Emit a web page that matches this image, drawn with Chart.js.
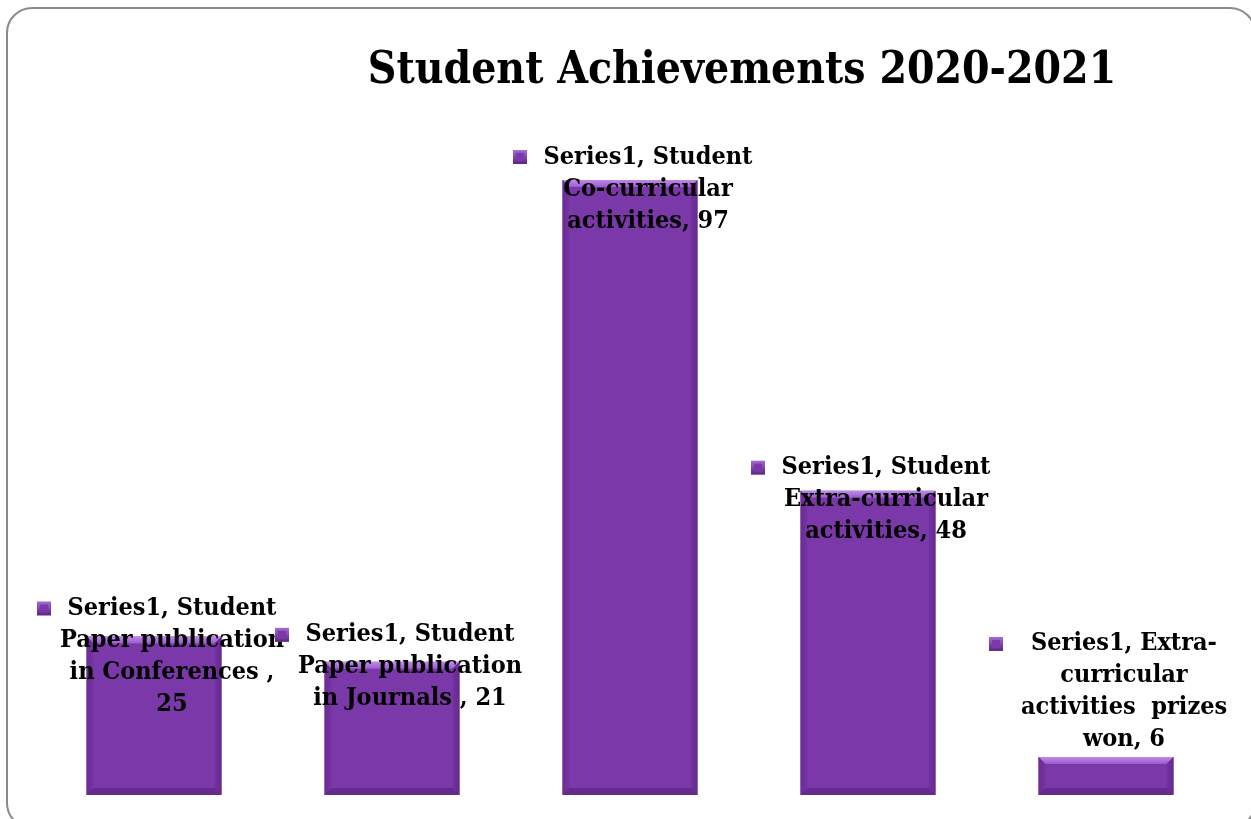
<!DOCTYPE html>
<html>
<head>
<meta charset="utf-8">
<script src="https://cdn.jsdelivr.net/npm/chart.js@4"></script>
<style>
  html, body { margin: 0; padding: 0; background: #fff; }
  #wrap { position: relative; width: 1251px; height: 819px; overflow: hidden; }
  #frame {
    position: absolute; left: 6px; top: 7px; width: 1250px; height: 822px;
    border: 2px solid #8a8a8a; border-radius: 26px; box-sizing: border-box;
  }
  canvas { position: absolute; left: 0; top: 0; }
</style>
</head>
<body>
<div id="wrap">
  <div id="frame"></div>
  <canvas id="myChart" width="1251" height="819"></canvas>
</div>
<script>
const titleText = "Student Achievements 2020-2021";
const seriesName = "Series1";
const categories = [
  "Student Paper publication in Conferences ",
  "Student Paper publication in Journals ",
  "Student Co-curricular activities",
  "Student Extra-curricular activities",
  "Extra-curricular activities  prizes won",
];
const values = [25, 21, 97, 48, 6];
// how each data label wraps in the picture
const labelLines = [
  ["Series1, Student", "Paper publication", "in Conferences ,", "25"],
  ["Series1, Student", "Paper publication", "in Journals , 21"],
  ["Series1, Student", "Co-curricular", "activities, 97"],
  ["Series1, Student", "Extra-curricular", "activities, 48"],
  ["Series1, Extra-", "curricular", "activities  prizes", "won, 6"],
];

const FONT = '"DejaVu Serif Condensed", "DejaVu Serif", serif';

// title drawn off-centre like the original
const titlePlugin = {
  id: "offTitle",
  afterDraw(chart) {
    const c = chart.ctx;
    c.save();
    c.font = "bold 44px " + FONT;
    c.fillStyle = "#000";
    c.textAlign = "center";
    c.textBaseline = "alphabetic";
    c.fillText(titleText, 742, 83);
    c.restore();
  },
};

// bevelled bars, like the office 3D preset
const bevelPlugin = {
  id: "bevel",
  afterDatasetsDraw(chart) {
    const c = chart.ctx;
    const b = 7;
    chart.getDatasetMeta(0).data.forEach((bar) => {
      const l = bar.x - bar.width / 2, r = bar.x + bar.width / 2;
      const t = bar.y, btm = bar.base;
      const bb = Math.min(b, (btm - t) / 2);
      c.save();
      // top
      let g = c.createLinearGradient(0, t, 0, t + bb);
      g.addColorStop(0, "#c089ea");
      g.addColorStop(1, "#9a5ccb");
      c.fillStyle = g;
      c.beginPath();
      c.moveTo(l, t); c.lineTo(r, t); c.lineTo(r - bb, t + bb); c.lineTo(l + bb, t + bb);
      c.closePath(); c.fill();
      // left
      g = c.createLinearGradient(l, 0, l + bb, 0);
      g.addColorStop(0, "#6a2c94");
      g.addColorStop(1, "#7633a2");
      c.fillStyle = g;
      c.beginPath();
      c.moveTo(l, t); c.lineTo(l + bb, t + bb); c.lineTo(l + bb, btm - bb); c.lineTo(l, btm);
      c.closePath(); c.fill();
      // right
      g = c.createLinearGradient(r, 0, r - bb, 0);
      g.addColorStop(0, "#642a8d");
      g.addColorStop(1, "#7432a0");
      c.fillStyle = g;
      c.beginPath();
      c.moveTo(r, t); c.lineTo(r - bb, t + bb); c.lineTo(r - bb, btm - bb); c.lineTo(r, btm);
      c.closePath(); c.fill();
      // bottom
      c.fillStyle = "#652a8e";
      c.beginPath();
      c.moveTo(l, btm); c.lineTo(l + bb, btm - bb); c.lineTo(r - bb, btm - bb); c.lineTo(r, btm);
      c.closePath(); c.fill();
      c.restore();
    });
  },
};

// data labels with the little legend key
const labelPlugin = {
  id: "keyLabels",
  afterDatasetsDraw(chart, args, opts) {
    const c = chart.ctx;
    const lh = 32;
    c.save();
    c.font = "bold 25px " + FONT;
    c.fillStyle = "#000";
    c.textAlign = "center";
    c.textBaseline = "middle";
    chart.getDatasetMeta(0).data.forEach((bar, i) => {
      const lines = labelLines[i];
      const mid = bar.y + opts.shift[i];
      const y0 = mid - (lines.length - 1) * lh / 2;
      const tx = bar.x + 18;
      lines.forEach((s, k) => c.fillText(s, tx, y0 + k * lh));
      // key square
      const kx = bar.x - 117, ky = y0 - 7;
      let g = c.createLinearGradient(0, ky, 0, ky + 14);
      g.addColorStop(0, "#a66bd6");
      g.addColorStop(1, "#5c2483");
      c.fillStyle = g;
      c.fillRect(kx, ky, 14, 14);
      c.fillStyle = "#7b38a8";
      c.fillRect(kx + 3, ky + 3, 8, 8);
      c.fillStyle = "#000";
    });
    c.restore();
  },
};

const data = {
  labels: categories,
  datasets: [
    {
      label: seriesName,
      data: values,
      backgroundColor: "#7b38a8",
      borderWidth: 0,
      barPercentage: 0.567,
      categoryPercentage: 1,
    },
  ],
};

const config = {
  type: "bar",
  data: data,
  options: {
    responsive: false,
    animation: false,
    layout: { padding: { left: 35, right: 26, top: 161, bottom: 24 } },
    scales: {
      x: { display: false },
      y: { display: false, min: 0, max: 100 },
    },
    plugins: {
      legend: { display: false },
      tooltip: { enabled: false },
      keyLabels: { shift: [20, 5, 9, 9, -65] },
    },
  },
  plugins: [bevelPlugin, labelPlugin, titlePlugin],
};
const ctx = document.getElementById("myChart").getContext("2d");
const myChart = new Chart(ctx, config);
</script>
</body>
</html>
